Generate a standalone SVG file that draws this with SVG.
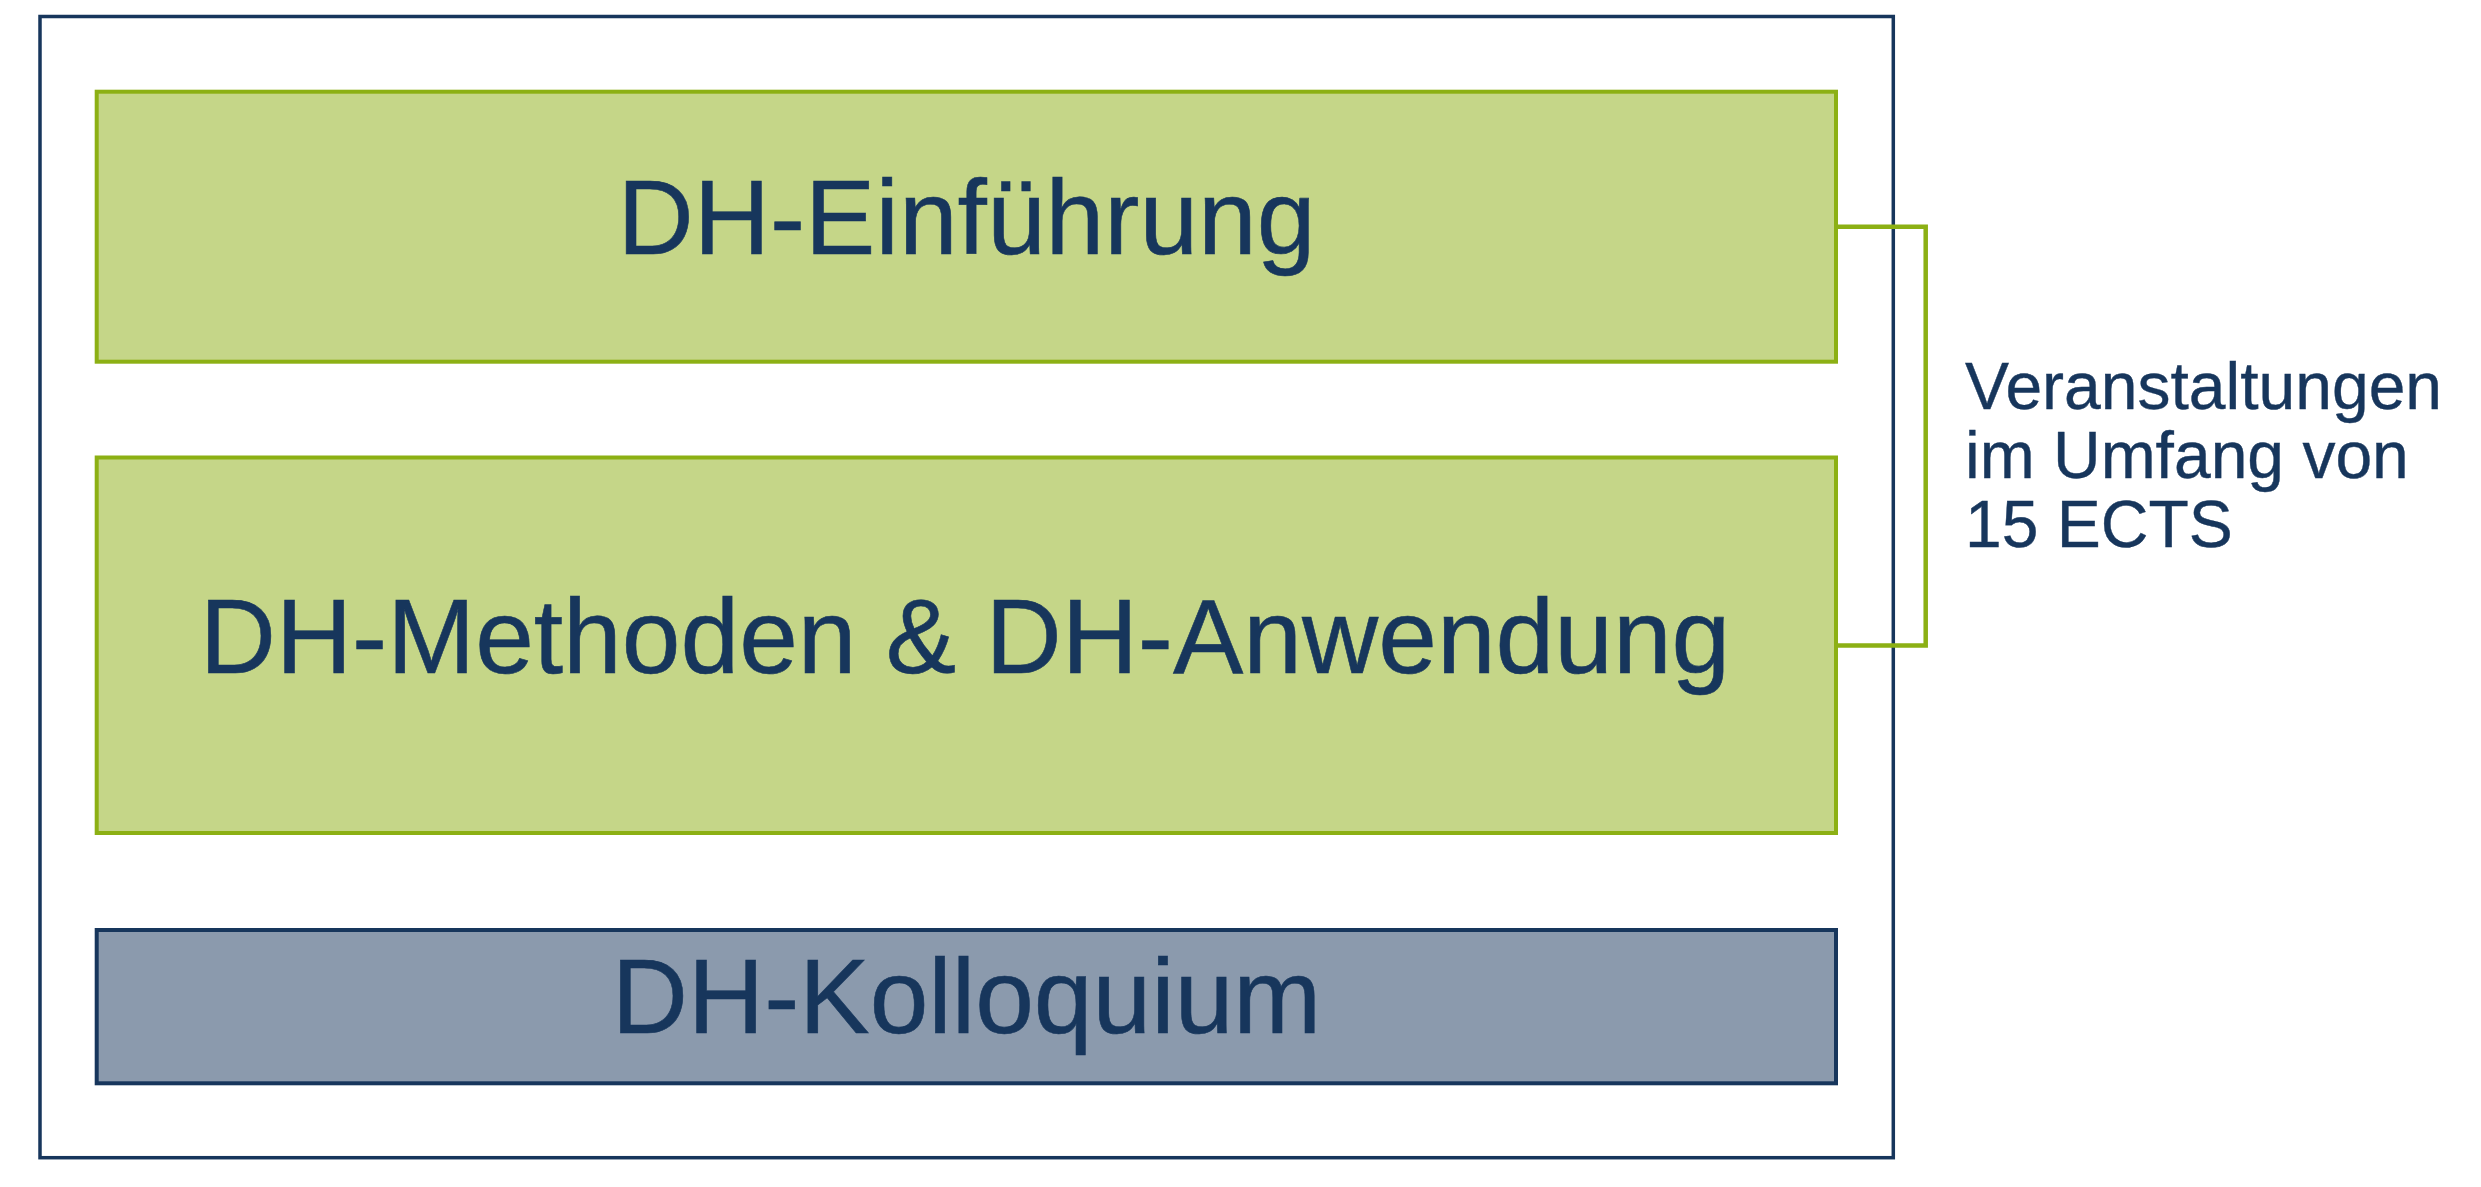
<svg xmlns="http://www.w3.org/2000/svg" width="2481" height="1187" viewBox="0 0 2481 1187">
  <style>
    .green { fill: #C5D688; stroke: #8CB014; stroke-width: 4; }
    .gray { fill: #8B9AAD; stroke: #17365C; stroke-width: 4; }
    .frame { fill: #FFFFFF; stroke: #17365C; stroke-width: 3.5; }
    .big { font-family: "Liberation Sans", Arial, sans-serif; font-size: 105.5px; fill: #17365C; text-anchor: middle; stroke: #17365C; stroke-width: 0.6; }
    .note { font-family: "Liberation Sans", Arial, sans-serif; font-size: 66px; fill: #17365C; stroke: #17365C; stroke-width: 0.4; }
    .conn { fill: none; stroke: #8CB014; stroke-width: 4.5; }
  </style>
  <rect width="2481" height="1187" fill="#FFFFFF"/>
  <g id="frame">
    <rect class="frame" x="40" y="16.5" width="1853.3" height="1141.2"/>
  </g>
  <g id="node-einfuehrung">
    <rect class="green" x="96.7" y="91.7" width="1739.3" height="270"/>
    <text class="big" x="966.5" y="254">DH-Einführung</text>
  </g>
  <g id="node-methoden">
    <rect class="green" x="96.7" y="457.5" width="1739.3" height="375.5"/>
    <text class="big" x="965" y="673.3">DH-Methoden &amp; DH-Anwendung</text>
  </g>
  <g id="node-kolloquium">
    <rect class="gray" x="96.7" y="930" width="1739.3" height="153.3"/>
    <text class="big" x="966.5" y="1033.3">DH-Kolloquium</text>
  </g>
  <g id="connectors">
    <polyline class="conn" points="1836,226.7 1925.7,226.7 1925.7,645.6 1836,645.6"/>
  </g>
  <g id="label-ects">
    <text class="note" x="1965" y="409.3">Veranstaltungen</text>
    <text class="note" x="1965" y="478.3">im Umfang von</text>
    <text class="note" x="1965" y="546.7">15 ECTS</text>
  </g>
</svg>
